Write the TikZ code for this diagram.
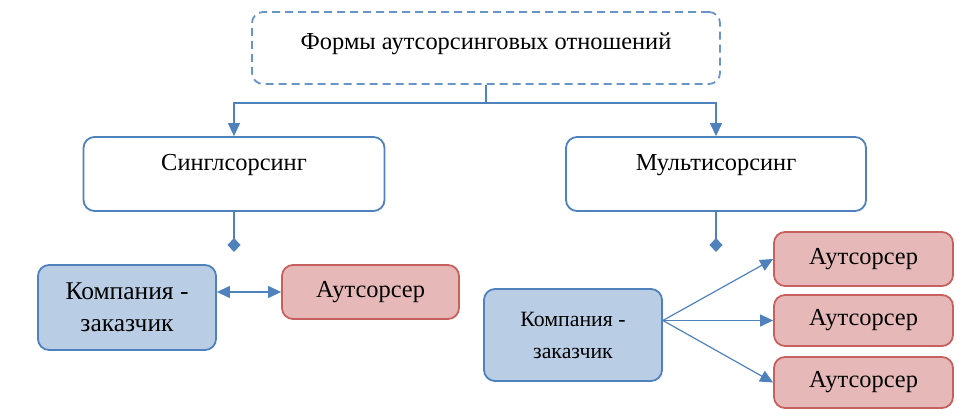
\documentclass[tikz,border=0pt]{standalone}
\usepackage{fontspec}
\setmainfont{Liberation Serif}
\usetikzlibrary{arrows.meta}
\definecolor{lineblue}{RGB}{79,129,189}
\definecolor{fillblue}{RGB}{185,205,229}
\definecolor{fillred}{RGB}{230,185,184}
\definecolor{linered}{RGB}{192,80,77}
\tikzset{
  box/.style={draw=lineblue, line width=1.8pt, rounded corners=11pt, inner sep=0pt,
              font=\fontsize{24.4}{26}\selectfont, align=center},
  topbox/.style={box, dash pattern=on 8pt off 5pt, draw=lineblue!85},
  clientbox/.style={box, fill=fillblue, font=\fontsize{25.5}{32}\selectfont},
  outbox/.style={box, fill=fillred, draw=linered!90},
  conn/.style={draw=lineblue, line width=1.2pt},
  arr/.style={conn, -{Triangle[length=13pt,width=12pt]}},
  dia/.style={conn, -{Diamond[length=14pt,width=13pt]}}
}
\begin{document}
\begin{tikzpicture}[x=1pt,y=-1pt]
  \useasboundingbox (0,0) rectangle (973,419);
  \node[topbox, minimum width=468pt, text height=38pt, text depth=34pt] (T) at (486,48)
       {Формы аутсорсинговых отношений};
  \node[box, minimum width=301pt, text height=34pt, text depth=40pt] (S) at (234,174)
       {Синглсорсинг};
  \node[box, minimum width=300pt, text height=34pt, text depth=40pt] (M) at (716,174)
       {Мультисорсинг};
  \coordinate (J) at (486,103);
  \draw[conn] (T.south) -- (J);
  \draw[arr] (J) -| (S.north);
  \draw[arr] (J) -| (M.north);

  % singlesourcing
  \coordinate (D1) at (234,252);
  \draw[dia] (S.south) -- (D1);
  \node[clientbox, minimum width=178pt, minimum height=85pt] (K1) at (127,307.5)
       {Компания -\\заказчик};
  \node[outbox, minimum width=177pt, minimum height=54pt] (A1) at (370.5,292) {Аутсорсер};
  \draw[conn, {Triangle[length=13pt,width=12pt]}-{Triangle[length=13pt,width=12pt]}]
       (A1.west -| K1.east) -- (A1.west);

  % multisourcing
  \coordinate (D2) at (716,252);
  \draw[dia] (M.south) -- (D2);
  \node[clientbox, minimum width=178pt, minimum height=92pt, font=\fontsize{21.8}{32}\selectfont]
       (K2) at (573,335) {Компания -\\заказчик};
  \node[outbox, minimum width=179pt, minimum height=54pt] (A2) at (863.5,259) {Аутсорсер};
  \node[outbox, minimum width=179pt, minimum height=51pt] (A3) at (863.5,320.5) {Аутсорсер};
  \node[outbox, minimum width=179pt, minimum height=51pt] (A4) at (863.5,382.5) {Аутсорсер};
  \coordinate (K2out) at (K2.east |- A3.west);
  \draw[arr] (K2out) -- (A2.west);
  \draw[arr] (K2out) -- (A3.west);
  \draw[arr] (K2out) -- (A4.west);
\end{tikzpicture}
\end{document}
